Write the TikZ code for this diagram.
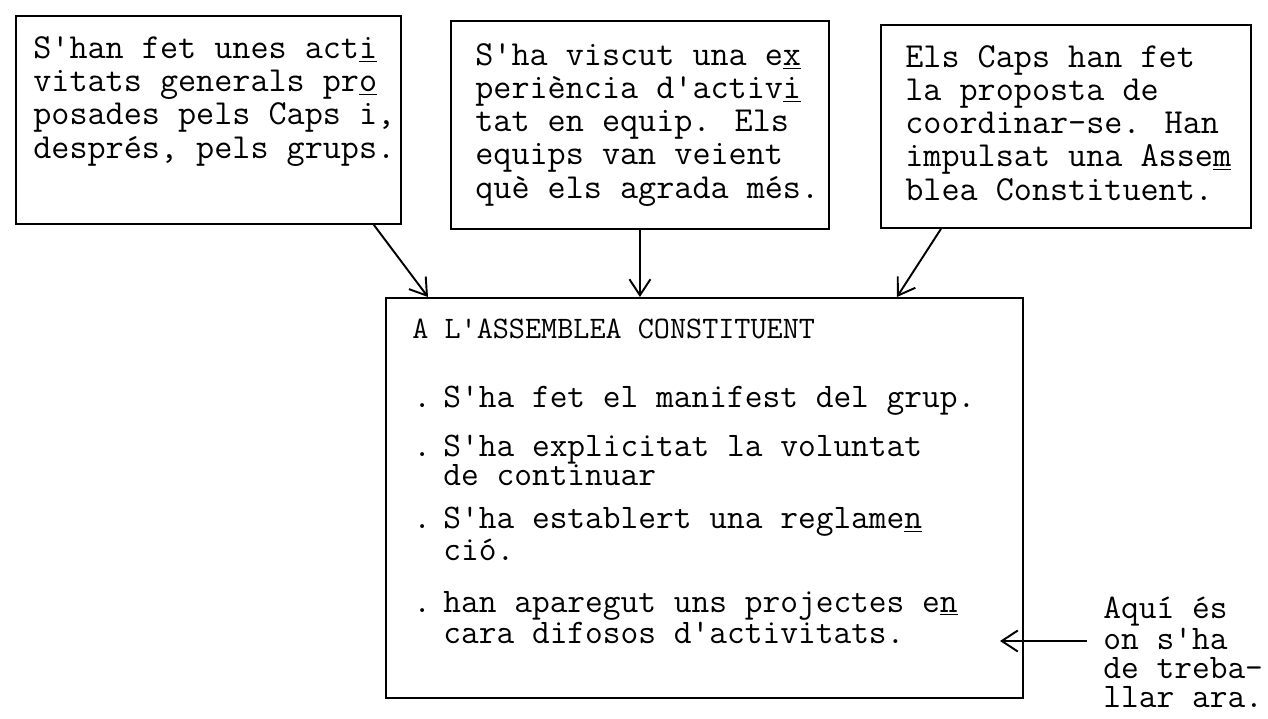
\documentclass[tikz,border=0pt]{standalone}
\usepackage{fontspec}
\usepackage{tikz}
\usetikzlibrary{arrows.meta,positioning}

\newcommand{\tyw}{\fontsize{20pt}{18.8pt}\selectfont\ttfamily}
\newcommand{\tywcap}{\fontsize{17.8pt}{18.8pt}\selectfont\ttfamily}
\newcommand{\tywtight}{\fontsize{19.6pt}{16.4pt}\selectfont\ttfamily}
\newcommand{\itemdot}{\llap{.\kern7pt}}

\begin{document}
\begin{tikzpicture}[
  x=0.02cm, y=-0.02cm,
  cbox/.style={draw,line width=1.1pt,inner sep=0pt,anchor=north west},
  ctext/.style={font=\tyw,align=left,inner sep=0pt,anchor=base west},
  citem/.style={ctext,font=\tywtight},
  arr/.style={-{Straight Barb[length=3.2mm,width=4.2mm]},line width=1.1pt}
]
\useasboundingbox (0,0) rectangle (1268,718);

% three starting boxes (text anchored at its last baseline)
\node[cbox,minimum width=7.7cm,minimum height=4.16cm] (box1) at (15,15) {};
\node[cbox,minimum width=7.56cm,minimum height=4.16cm] (box2) at (450,20) {};
\node[cbox,minimum width=7.4cm,minimum height=4.06cm] (box3) at (880,24) {};

\node[ctext] (txt1) at (33,158) {S'han fet unes act\underline{i}\\vitats generals pr\underline{o}\\posades pels Caps i,\\després, pels grups.};
\node[ctext] (txt2) at (475,198) {S'ha viscut una e\underline{x}\\periència d'activ\underline{i}\\tat en equip. Els\\equips van veient\\què els agrada més.};
\node[ctext] (txt3) at (905,200) {Els Caps han fet\\la proposta de\\coordinar-se. Han\\impulsat una Asse\underline{m}\\blea Constituent.};

% assembly box
\node[cbox,minimum width=12.74cm,minimum height=8.0cm] (main) at (385,297) {};
\node[ctext,font=\tywcap] (title) at (412,338) {A L'ASSEMBLEA CONSTITUENT};
\node[citem] (it1) at (443,407) {\itemdot S'ha fet el manifest del grup.};
\node[citem] (it2) at (443,485) {\itemdot S'ha explicitat la voluntat\\de continuar};
\node[citem] (it3) at (443,560) {\itemdot S'ha establert una reglame\underline{n}\\ció.};
\node[citem] (it4) at (443,643) {\itemdot han aparegut uns projectes e\underline{n}\\cara difosos d'activitats.};

% note on the right
\node[citem] (note) at (1103,707) {Aquí és\\on s'ha\\de treba-\\llar ara.};
\coordinate (tip) at (1000,641);

\draw[arr] ([xshift=-0.56cm]box1.south east) -- ([xshift=0.86cm]main.north west);
\draw[arr] (box2.south) -- (box2.south |- main.north);
\draw[arr] ([xshift=-2.5cm]box3.south) -- ([xshift=10.24cm]main.north west);
\draw[arr] ([xshift=-0.32cm]note.west |- tip) -- (tip);
\end{tikzpicture}
\end{document}
